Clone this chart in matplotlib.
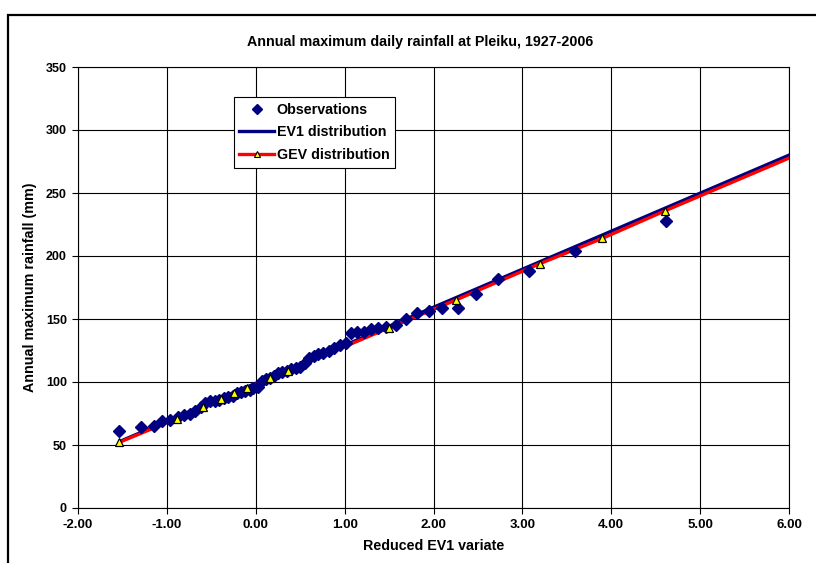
import matplotlib
matplotlib.use("Agg")
import matplotlib.pyplot as plt
from matplotlib.lines import Line2D
from matplotlib.patches import Rectangle
from matplotlib.ticker import FormatStrFormatter, MultipleLocator

plt.rcParams['font.family'] = ['Liberation Sans', 'DejaVu Sans']
plt.rcParams['font.weight'] = 'bold'

obs_x = [-1.54, -1.29, -1.15, -1.05, -0.96, -0.88, -0.81, -0.74, -0.68, -0.62,
         -0.57, -0.51, -0.46, -0.41, -0.36, -0.31, -0.26, -0.21, -0.17, -0.12,
         -0.07, -0.03, 0.02, 0.07, 0.11, 0.16, 0.21, 0.25, 0.30, 0.35,
         0.40, 0.45, 0.50, 0.55, 0.60, 0.65, 0.70, 0.76, 0.82, 0.88,
         0.95, 1.01, 1.07, 1.14, 1.22, 1.30, 1.38, 1.47, 1.58, 1.69,
         1.81, 1.95, 2.10, 2.28, 2.48, 2.73, 3.08, 3.59, 4.62]
obs_y = [61, 64, 65, 69, 70, 72, 74, 75, 77, 80,
         83, 85, 85, 86, 87, 88, 89, 91, 92, 93,
         94, 95, 96, 101, 102, 103, 105, 107, 108, 109,
         110, 111, 112, 115, 119, 121, 122, 123, 125, 127,
         129, 131, 139, 140, 140, 142, 143, 144, 145, 150,
         155, 156, 159, 159, 170, 182, 188, 204, 228]

# fitted EV1 (straight line)
ev1_x = [-1.54, 6.91]
ev1_y = [52.5, 307.5]

# fitted GEV
gev_x = [-1.54, -0.89, -0.59, -0.39, -0.24, -0.10, 0.16, 0.36, 1.50, 2.25, 3.20, 3.90, 4.61, 6.91]
gev_y = [52, 71, 80, 86.5, 91, 95, 103, 109, 143, 165, 194, 214, 236, 305]

fig = plt.figure(figsize=(8.16, 5.63), dpi=100)
ax = fig.add_axes([78/816, 55/563, 711/816, 441/563])

# outer chart frame (runs off the right and bottom of the image)
fig.patches.append(Rectangle((8/816, -0.05), 1.0, 1 - 15/563 + 0.05, transform=fig.transFigure,
                             fill=False, edgecolor='black', lw=1.6, clip_on=False))

ax.plot(ev1_x, ev1_y, color='#000080', lw=2.4, zorder=2, solid_capstyle='butt')
ax.plot(gev_x, gev_y, color='#ff0000', lw=2.4, zorder=2.5, solid_capstyle='butt')
ax.plot(obs_x, obs_y, ls='none', marker='D', ms=5.8, color='#000080', mec='#000080', zorder=3)
ax.plot(gev_x, gev_y, ls='none', marker='^', ms=5.5, mfc='#ffff00', mec='black', mew=0.9, zorder=4)

ax.set_xlim(-2, 6)
ax.set_ylim(0, 350)
ax.xaxis.set_major_locator(MultipleLocator(1))
ax.yaxis.set_major_locator(MultipleLocator(50))
ax.xaxis.set_major_formatter(FormatStrFormatter('%.2f'))
ax.grid(True, color='black', lw=0.8)
ax.set_axisbelow(True)
for s in ax.spines.values():
    s.set_color('black')
    s.set_linewidth(0.8)
ax.tick_params(direction='out', length=4, width=0.8, pad=4)
ax.tick_params(axis='x', labelsize=9.5)
ax.tick_params(axis='y', labelsize=9)

fig.text(420/816, 1 - 42/563, 'Annual maximum daily rainfall at Pleiku, 1927-2006',
         ha='center', va='center', fontsize=10.3, fontweight='bold')
ax.set_xlabel('Reduced EV1 variate', fontsize=10.3, fontweight='bold', labelpad=6)
ax.set_ylabel('Annual maximum rainfall (mm)', fontsize=10.3, fontweight='bold')
ax.yaxis.set_label_coords((37 - 78)/711, 0.5)

handles = [
    Line2D([], [], ls='none', marker='D', ms=5.5, color='#000080'),
    Line2D([], [], color='#000080', lw=2.4),
    Line2D([], [], color='#ff0000', lw=2.4, marker='^', ms=5, mfc='#ffff00', mec='black', mew=0.8),
]
leg = ax.legend(handles, ['Observations', 'EV1 distribution', 'GEV distribution'],
                loc='upper left', bbox_to_anchor=(0.219, 0.932), borderaxespad=0, fontsize=10.3,
                frameon=True, fancybox=False, edgecolor='black', framealpha=1,
                handlelength=2.4, handletextpad=0.2, borderpad=0.4, labelspacing=0.6)
leg.get_frame().set_linewidth(0.8)

fig.savefig('out.png', dpi=100)
